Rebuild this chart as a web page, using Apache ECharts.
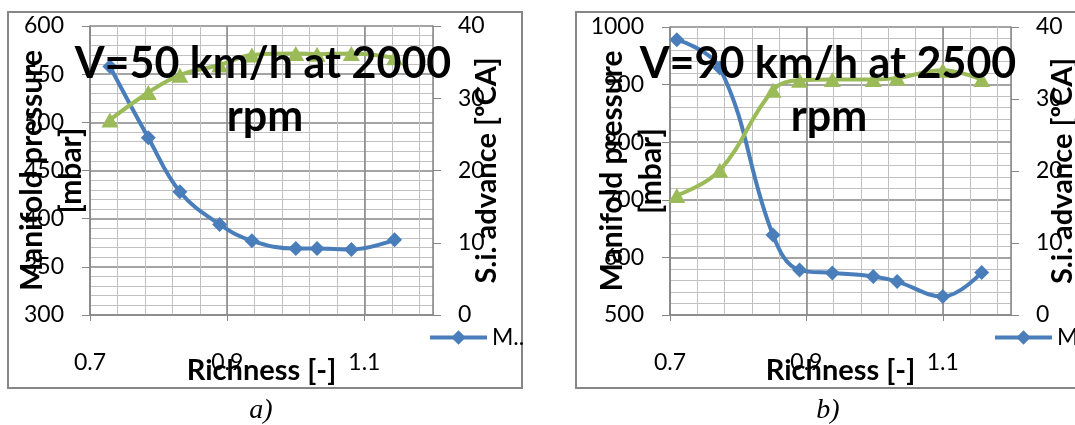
<!DOCTYPE html>
<html>
<head>
<meta charset="utf-8">
<title>Manifold pressure and S.i. advance vs richness</title>
<script src="https://cdn.jsdelivr.net/npm/echarts@6.0.0/dist/echarts.min.js"></script>
<style>
html,body{margin:0;padding:0;background:#fff;}
#main{width:1075px;height:425px;}
</style>
</head>
<body>
<div id="main"></div>
<script>
// a) V=50 km/h at 2000 rpm
var richA = [0.729, 0.785, 0.831, 0.889, 0.936, 1.0, 1.031, 1.081, 1.144];
var pressA = [558, 484, 428, 394, 377, 369, 369, 368, 378];
var advA = [27.0, 30.8, 33.2, 34.6, 36.0, 36.2, 36.1, 36.2, 35.6];
// b) V=90 km/h at 2500 rpm
var richB = [0.71, 0.773, 0.851, 0.89, 0.938, 0.998, 1.033, 1.1, 1.157];
var pressB = [978, 929, 639, 578, 573, 567, 558, 532, 574];
var advB = [16.6, 20.1, 31.2, 32.6, 32.7, 32.7, 32.9, 34.0, 32.7];
// x axis labels
var xTicks = [0.7, 0.9, 1.1];

var FONT = 'Lato';
var BLUE = '#4a7ebb';
var GREEN = '#9bbb59';
var MAJOR = '#868686';
var MINOR = '#c0c0c0';

function pairs(xs, ys){
	var out = [];
	for(var i=0;i<xs.length;i++){
		out.push([xs[i], ys[i]]);
	}
	return out;
}

function plain(v){
	return String(v);
}

// hidden axis, only draws the fine vertical grid
function minorX(grid){
	return {
		type : 'value',
		gridIndex : grid,
		min : 0.7,
		max : 1.2,
		interval : 0.04,
		axisLine : {show:false},
		axisTick : {show:false},
		axisLabel : {show:false},
		splitLine : {show:true, lineStyle:{color:MINOR, width:1}}
	};
}

function mainX(grid){
	return {
		type : 'value',
		gridIndex : grid,
		position : 'bottom',
		min : 0.7,
		max : 1.2,
		name : 'Richness [-]',
		nameLocation : 'middle',
		nameGap : 56,
		nameMoveOverlap : false,
		nameTextStyle : {fontFamily:FONT, fontSize:29, fontWeight:'bold', color:'#000', verticalAlign:'middle'},
		axisLine : {show:true, lineStyle:{color:MAJOR, width:1.5}},
		axisTick : {show:true, length:6, customValues:xTicks, lineStyle:{color:MAJOR}},
		axisLabel : {customValues:xTicks, margin:36, fontFamily:FONT, fontSize:23, color:'#000'},
		splitLine : {show:true, customValues:xTicks, lineStyle:{color:MAJOR, width:1.5}}
	};
}

function leftY(grid, min, max, step){
	return {
		type : 'value',
		gridIndex : grid,
		position : 'left',
		min : min,
		max : max,
		interval : step,
		name : 'Manifold pressure\n[mbar]',
		nameLocation : 'middle',
		nameRotate : 90,
		nameGap : 38,
		nameMoveOverlap : false,
		nameTextStyle : {fontFamily:FONT, fontSize:30, fontWeight:'bold', color:'#000', lineHeight:39, align:'center', verticalAlign:'middle'},
		axisLine : {show:true, lineStyle:{color:MAJOR, width:1.5}},
		axisTick : {show:true, length:8, lineStyle:{color:MAJOR}},
		axisLabel : {margin:26, fontFamily:FONT, fontSize:23, color:'#000', formatter:plain},
		splitLine : {show:true, lineStyle:{color:MAJOR, width:1.5}},
		minorTick : {show:false, splitNumber:5},
		minorSplitLine : {show:true, lineStyle:{color:MINOR, width:1}}
	};
}

function rightY(grid, gap){
	return {
		type : 'value',
		gridIndex : grid,
		position : 'right',
		min : 0,
		max : 40,
		interval : 10,
		name : 'S.i. advance [ºCA]',
		nameLocation : 'middle',
		nameRotate : 90,
		nameGap : gap,
		nameMoveOverlap : false,
		nameTextStyle : {fontFamily:FONT, fontSize:29, fontWeight:'bold', color:'#000', align:'center', verticalAlign:'middle'},
		axisLine : {show:true, lineStyle:{color:MAJOR, width:1.5}},
		axisTick : {show:true, length:8, lineStyle:{color:MAJOR}},
		axisLabel : {margin:25, fontFamily:FONT, fontSize:23, color:'#000', formatter:plain},
		splitLine : {show:false}
	};
}

function pressSeries(x, y, xs, ys){
	return {
		name : 'Manifold pressure',
		type : 'line',
		xAxisIndex : x,
		yAxisIndex : y,
		data : pairs(xs, ys),
		smooth : 0.4,
		symbol : 'diamond',
		symbolSize : 15,
		lineStyle : {color:BLUE, width:4},
		itemStyle : {color:BLUE},
		z : 3
	};
}

function advSeries(x, y, xs, ys){
	return {
		name : 'S.i. advance',
		type : 'line',
		xAxisIndex : x,
		yAxisIndex : y,
		data : pairs(xs, ys),
		smooth : 0.4,
		symbol : 'triangle',
		symbolSize : [17, 15],
		lineStyle : {color:GREEN, width:4},
		itemStyle : {color:GREEN},
		z : 4
	};
}

function legendAt(left){
	return {
		data : ['Manifold pressure'],
		left : left,
		top : 326,
		padding : 0,
		itemWidth : 57,
		itemHeight : 18,
		selectedMode : false,
		lineStyle : {width:4},
		formatter : function(){ return 'M..'; },
		textStyle : {fontFamily:FONT, fontSize:23, color:'#000'}
	};
}

function label(text, x, y, font){
	return {
		type : 'text',
		x : x,
		y : y,
		z : 100,
		style : {text:text, font:font, fill:'#000', textAlign:'center', textVerticalAlign:'middle'}
	};
}

var myChart = echarts.init(document.getElementById('main'));
var option = {
	animation : false,
	backgroundColor : '#fff',
	grid : [
		{left:90, top:26, width:343, height:289, containLabel:false, outerBoundsMode:'none'},
		{left:670, top:27, width:341, height:288, containLabel:false, outerBoundsMode:'none'}
	],
	xAxis : [minorX(0), mainX(0), minorX(1), mainX(1)],
	yAxis : [leftY(0, 300, 600, 50), rightY(0, 54), leftY(1, 500, 1000, 100), rightY(1, 52)],
	legend : [legendAt(428), legendAt(993)],
	series : [
		pressSeries(1, 0, richA, pressA),
		advSeries(1, 1, richA, advA),
		pressSeries(3, 2, richB, pressB),
		advSeries(3, 3, richB, advB)
	],
	graphic : [
		{type:'rect', shape:{x:8, y:12, width:514, height:376}, style:{fill:'none', stroke:'#868686', lineWidth:2}},
		{type:'rect', shape:{x:576, y:12, width:520, height:376}, style:{fill:'none', stroke:'#868686', lineWidth:2}},
		label('V=50 km/h at 2000', 263, 64, 'bold 43px Lato'),
		label('rpm', 265, 117, 'bold 43px Lato'),
		label('V=90 km/h at 2500', 828, 64, 'bold 43px Lato'),
		label('rpm', 829, 117, 'bold 43px Lato'),
		label('a)', 261, 411, 'italic 28px "Liberation Serif"'),
		label('b)', 828, 411, 'italic 28px "Liberation Serif"')
	]
};
myChart.setOption(option);
</script>
</body>
</html>
